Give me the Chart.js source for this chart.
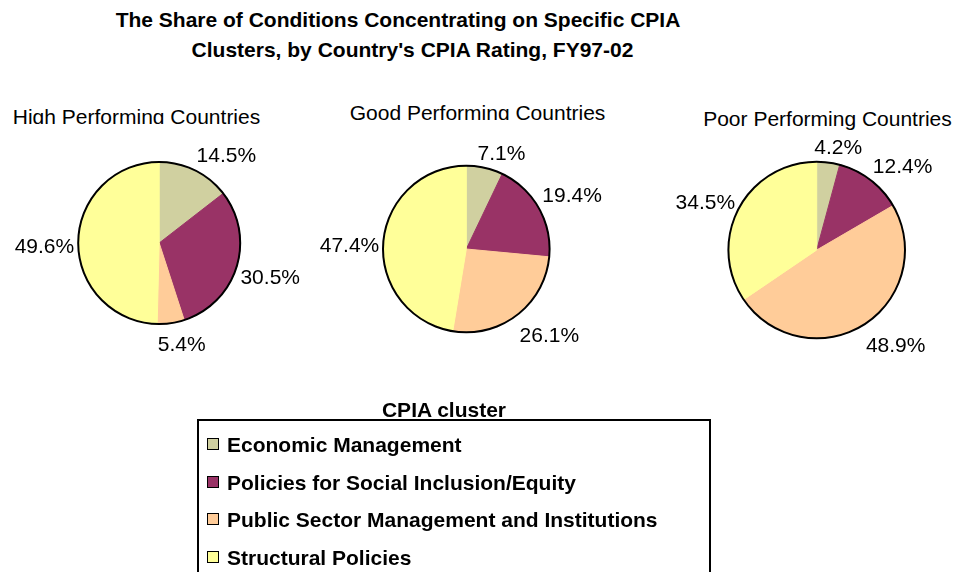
<!DOCTYPE html>
<html>
<head>
<meta charset="utf-8">
<script src="https://cdn.jsdelivr.net/npm/chart.js@4.4.1/dist/chart.umd.min.js"></script>
<style>
    html, body { margin: 0; padding: 0; background: #fff; }
    #wrap { position: relative; width: 956px; height: 572px; overflow: hidden; font-family: Arial, "Liberation Sans", sans-serif; color: #000; }
    #wrap canvas { position: absolute; left: 0; top: 0; }
    .txt { position: absolute; font-size: 21px; line-height: 21px; white-space: nowrap; }
    .bold { font-weight: bold; }
    .clip { overflow: hidden; }
    #legendBox { position: absolute; left: 197px; top: 419px; width: 510px; height: 200px; border: 2px solid #000; }
    .swatch { position: absolute; left: 207px; width: 10px; height: 10px; border: 1.5px solid #000; }
</style>
</head>
<body>
<div id="wrap">
    <div class="txt bold" style="left:0; width:796px; top:9px; text-align:center;">The Share of Conditions Concentrating on Specific CPIA</div>
    <div class="txt bold" style="left:0; width:825px; top:39px; text-align:center;">Clusters, by Country's CPIA Rating, FY97-02</div>
    <div id="subtitles"></div>
    <canvas id="pieHigh" width="956" height="572"></canvas>
    <canvas id="pieGood" width="956" height="572"></canvas>
    <canvas id="piePoor" width="956" height="572"></canvas>
    <div class="txt bold" style="left:0; width:888px; top:399px; text-align:center;">CPIA cluster</div>
    <div id="legendBox"></div>
    <div id="legendItems"></div>
</div>
<script>
// Dữ liệu
const clusters = ['Economic Management', 'Policies for Social Inclusion/Equity', 'Public Sector Management and Institutions', 'Structural Policies'];
const groups = ['High Performing Countries', 'Good Performing Countries', 'Poor Performing Countries'];
const highShares = [14.5, 30.5, 5.4, 49.6];
const goodShares = [7.1, 19.4, 26.1, 47.4];
const poorShares = [4.2, 12.4, 48.9, 34.5];
const clusterColors = ['#D0D0A0', '#993366', '#FFCC99', '#FFFF99'];

// Bố cục từng biểu đồ tròn (tâm, bán kính) và tiêu đề con
const pies = [
    { id: 'pieHigh', values: highShares, cx: 159.2, cy: 243, r: 81.5 },
    { id: 'pieGood', values: goodShares, cx: 466.3, cy: 249, r: 83.8 },
    { id: 'piePoor', values: poorShares, cx: 816.7, cy: 250, r: 88.8 }
];
const subtitleBoxes = [
    { center: 136.5, top: 105.5, height: 18 },
    { center: 477.5, top: 101.5, height: 18.5 },
    { center: 827.5, top: 108, height: 26 }
];

const W = 956, H = 572;

// Viền tròn bên ngoài
const outerRing = {
    id: 'outerRing',
    afterDatasetsDraw(chart) {
        const arc = chart.getDatasetMeta(0).data[0];
        if (!arc) return;
        const { x, y, outerRadius } = arc.getProps(['x', 'y', 'outerRadius'], true);
        const ctx = chart.ctx;
        ctx.save();
        ctx.beginPath();
        ctx.arc(x, y, outerRadius, 0, Math.PI * 2);
        ctx.lineWidth = 2;
        ctx.strokeStyle = '#000';
        ctx.stroke();
        ctx.restore();
    }
};

// Nhãn phần trăm bên ngoài
const pctLabels = {
    id: 'pctLabels',
    afterDatasetsDraw(chart) {
        const ctx = chart.ctx;
        const meta = chart.getDatasetMeta(0);
        const data = chart.data.datasets[0].data;
        ctx.save();
        ctx.font = '21px Arial, "Liberation Sans", sans-serif';
        ctx.fillStyle = '#000';
        ctx.textBaseline = 'middle';
        ctx.textAlign = 'left';
        meta.data.forEach((arc, i) => {
            const p = arc.getProps(['x', 'y', 'startAngle', 'endAngle', 'outerRadius'], true);
            const mid = (p.startAngle + p.endAngle) / 2;
            const cos = Math.cos(mid), sin = Math.sin(mid);
            const R = p.outerRadius + 4;
            const ax = p.x + R * cos, ay = p.y + R * sin;
            const text = data[i].toFixed(1) + '%';
            const w = ctx.measureText(text).width;
            const fx = Math.max(-1, Math.min(1, 3 * cos));
            const fy = Math.max(-1, Math.min(1, 2 * sin));
            const tx = ax + fx * w / 2 - w / 2;
            let ty = ay + (fy < 0 ? fy * 10 : fy * 18);
            if (cos < -0.5) ty += 6;
            ctx.fillText(text, tx, ty);
        });
        ctx.restore();
    }
};

pies.forEach(pie => {
    new Chart(document.getElementById(pie.id), {
        type: 'pie',
        data: {
            labels: clusters,
            datasets: [{
                data: pie.values,
                backgroundColor: clusterColors,
                borderColor: clusterColors,
                borderWidth: 1
            }]
        },
        options: {
            responsive: false,
            animation: false,
            events: [],
            layout: {
                padding: {
                    left: pie.cx - pie.r,
                    right: W - pie.cx - pie.r,
                    top: pie.cy - pie.r,
                    bottom: H - pie.cy - pie.r
                }
            },
            plugins: {
                legend: { display: false },
                tooltip: { enabled: false },
                title: { display: false }
            }
        },
        plugins: [outerRing, pctLabels]
    });
});

// Tiêu đề con
let subHTML = '';
groups.forEach((g, i) => {
    const b = subtitleBoxes[i];
    subHTML += `<div class="txt clip" style="left:${b.center - 200}px; width:400px; text-align:center; top:${b.top}px; height:${b.height}px;">${g}</div>`;
});
document.getElementById('subtitles').innerHTML = subHTML;

// Chú thích
let legendHTML = '';
clusters.forEach((label, i) => {
    const baseline = 452 + i * 37.5;
    legendHTML += `
        <div class="swatch" style="top:${baseline - 14}px; background:${clusterColors[i]};"></div>
        <div class="txt bold" style="left:227px; top:${baseline - 17.8}px;">${label}</div>
    `;
});
document.getElementById('legendItems').innerHTML = legendHTML;
</script>
</body>
</html>
